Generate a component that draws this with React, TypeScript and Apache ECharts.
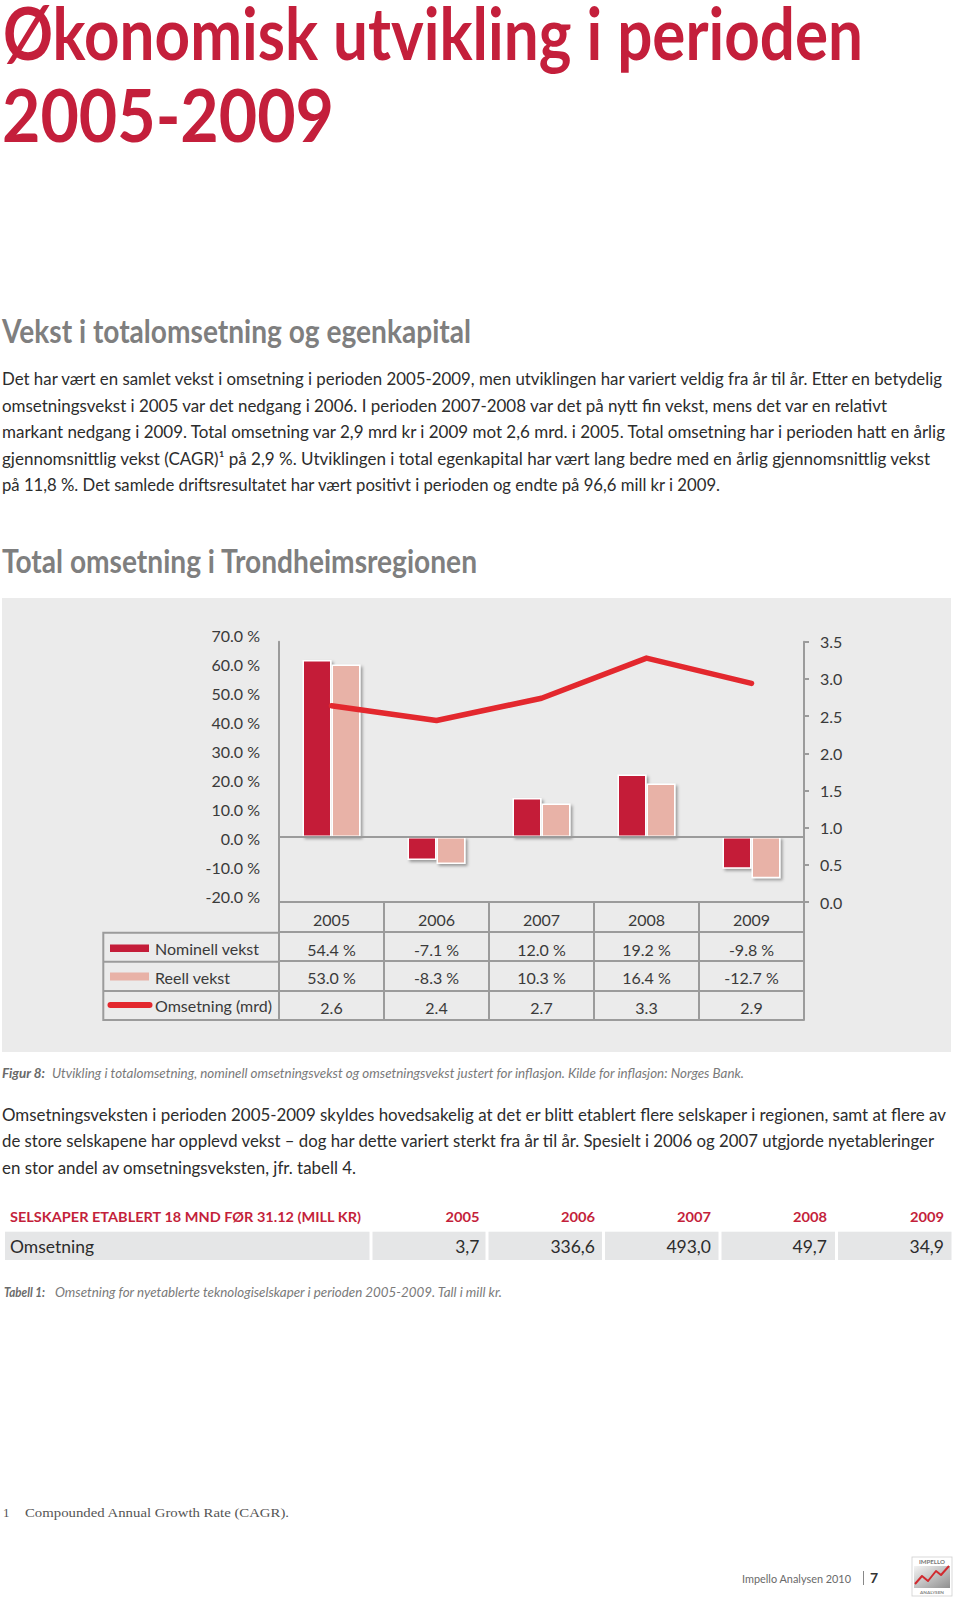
import React, { useEffect, useRef } from "react";
import * as echarts from "echarts";

// ---------- chart data ----------
const years = ["2005", "2006", "2007", "2008", "2009"];
const nominellVekst = [54.4, -7.1, 12.0, 19.2, -9.8];
const reellVekst = [53.0, -8.3, 10.3, 16.4, -12.7];
const omsetningMrd = [2.64, 2.44, 2.74, 3.28, 2.94];
const seriesNames = ["Nominell vekst", "Reell vekst", "Omsetning (mrd)"];
const pctAxisMin = -20;
const pctAxisMax = 70;
const pctAxisStep = 10;
const barAxisMin = -20;
const barAxisMax = 60;
const mrdAxisMin = 0;
const mrdAxisMax = 3.5;
const mrdAxisStep = 0.5;

// ---------- table data ----------
const tableHeader = "SELSKAPER ETABLERT 18 MND FØR 31.12 (MILL KR)";
const tableYears = ["2005", "2006", "2007", "2008", "2009"];
const tableRowLabel = "Omsetning";
const tableValues = [3.7, 336.6, 493.0, 49.7, 34.9];

// ---------- page text ----------
const titleLines = ["Økonomisk utvikling i perioden", "2005-2009"];
const heading1 = "Vekst i totalomsetning og egenkapital";
const para1 = [
  "Det har vært en samlet vekst i omsetning i perioden 2005-2009, men utviklingen har variert veldig fra år til år. Etter en betydelig",
  "omsetningsvekst i 2005 var det nedgang i 2006. I perioden 2007-2008 var det på nytt fin vekst, mens det var en relativt",
  "markant nedgang i 2009. Total omsetning var 2,9 mrd kr i 2009 mot 2,6 mrd. i 2005. Total omsetning har i perioden hatt en årlig",
  "gjennomsnittlig vekst (CAGR)¹  på 2,9 %. Utviklingen i total egenkapital har vært lang bedre med en årlig gjennomsnittlig vekst",
  "på 11,8 %. Det samlede driftsresultatet har vært positivt i perioden og endte på 96,6 mill kr i 2009.",
];
const heading2 = "Total omsetning i Trondheimsregionen";
const figLabel = "Figur 8:";
const figText =
  "Utvikling i totalomsetning, nominell omsetningsvekst og omsetningsvekst justert for inflasjon. Kilde for inflasjon: Norges Bank.";
const para2 = [
  "Omsetningsveksten i perioden 2005-2009 skyldes hovedsakelig at det er blitt etablert flere selskaper i regionen, samt at flere av",
  "de store selskapene har opplevd vekst – dog har dette variert sterkt fra år til år. Spesielt i 2006 og 2007 utgjorde nyetableringer",
  "en stor andel av omsetningsveksten, jfr. tabell 4.",
];
const tabLabel = "Tabell 1:";
const tabText = "Omsetning for nyetablerte teknologiselskaper i perioden 2005-2009. Tall i mill kr.";
const footnoteNo = "1";
const footnoteText = "Compounded Annual Growth Rate (CAGR).";
const footerText = "Impello Analysen 2010";
const footerPage = "7";

// ---------- styles ----------
const C_NOM = "#c41d39";
const C_REEL = "#e8b2a7";
const C_LINE = "#e3282e";
const C_AXIS = "#9b9b9b";
const C_TEXT = "#3a3a3a";
const C_RED_TEXT = "#c41f3b";
const FONT = "Lato, 'Open Sans', sans-serif";

const pct = (v: number) => `${v.toFixed(1)} %`;

function Chart() {
  const ref = useRef<HTMLDivElement>(null);
  useEffect(() => {
    if (!ref.current) return;
    const chart = echarts.init(ref.current, undefined, { renderer: "svg" });
    const rowLabels = [
      years,
      nominellVekst.map(pct),
      reellVekst.map(pct),
      omsetningMrd.map((v) => v.toFixed(1)),
    ];
    const rowOffsets = [0, 30, 59, 89];
    const rowHeights = [30, 29, 30, 29];
    const rowMargins = [9, 9, 8.5, 8];
    const xAxes: any[] = rowLabels.map((labels, i) => ({
      type: "category",
      data: years,
      position: "bottom",
      offset: rowOffsets[i],
      boundaryGap: true,
      axisLine: { show: true, onZero: false, lineStyle: { color: C_AXIS, width: 2 } },
      axisTick: {
        show: true,
        interval: 0,
        length: rowHeights[i],
        lineStyle: { color: C_AXIS, width: 2 },
      },
      axisLabel: {
        show: true,
        interval: 0,
        margin: rowMargins[i],
        color: C_TEXT,
        fontFamily: FONT,
        fontSize: 16,
        lineHeight: 16,
        formatter: (_v: string, idx: number) => labels[idx],
      },
      splitLine: { show: false },
    }));
    xAxes.push({
      type: "category",
      data: years,
      position: "bottom",
      offset: 118,
      axisLine: { show: true, onZero: false, lineStyle: { color: C_AXIS, width: 2 } },
      axisTick: { show: false },
      axisLabel: { show: false },
      splitLine: { show: false },
    });

    const option: any = {
      animation: false,
      backgroundColor: "#ebebeb",
      grid: {
        left: 277,
        top: 43.7,
        width: 525,
        height: 260.3,
        containLabel: false,
        outerBoundsMode: "none",
      },
      xAxis: xAxes,
      yAxis: [
        {
          type: "value",
          position: "left",
          min: pctAxisMin,
          max: pctAxisMax,
          interval: pctAxisStep,
          axisLine: { show: true, lineStyle: { color: C_AXIS, width: 2 } },
          axisTick: { show: false },
          splitLine: { show: false },
          axisLabel: {
            margin: 19,
            color: C_TEXT,
            fontFamily: FONT,
            fontSize: 16,
            lineHeight: 12,
            verticalAlign: "bottom",
            formatter: (v: number) => pct(v),
          },
        },
        {
          type: "value",
          position: "right",
          min: mrdAxisMin,
          max: mrdAxisMax,
          interval: mrdAxisStep,
          axisLine: { show: true, lineStyle: { color: C_AXIS, width: 2 } },
          axisTick: { show: true, length: 5, lineStyle: { color: C_AXIS, width: 2 } },
          splitLine: { show: false },
          axisLabel: {
            margin: 16,
            color: C_TEXT,
            fontFamily: FONT,
            fontSize: 16,
            formatter: (v: number) => v.toFixed(1),
          },
        },
        {
          type: "value",
          position: "left",
          show: false,
          min: barAxisMin,
          max: barAxisMax,
          splitLine: { show: false },
        },
      ],
      series: [
        {
          name: seriesNames[0],
          type: "bar",
          yAxisIndex: 2,
          data: nominellVekst,
          barWidth: 29,
          barGap: "0%",
          itemStyle: {
            color: C_NOM,
            borderColor: "#ffffff",
            borderWidth: 1.5,
            shadowColor: "rgba(0,0,0,0.35)",
            shadowBlur: 3,
            shadowOffsetX: 2,
            shadowOffsetY: 2,
          },
          markLine: {
            silent: true,
            symbol: ["none", "none"],
            label: { show: false },
            lineStyle: { color: C_AXIS, width: 2, type: "solid" },
            data: [{ yAxis: 0 }],
          },
        },
        {
          name: seriesNames[1],
          type: "bar",
          yAxisIndex: 2,
          data: reellVekst,
          barWidth: 29,
          barGap: "0%",
          itemStyle: {
            color: C_REEL,
            borderColor: "#ffffff",
            borderWidth: 1.5,
            shadowColor: "rgba(0,0,0,0.35)",
            shadowBlur: 3,
            shadowOffsetX: 2,
            shadowOffsetY: 2,
          },
        },
        {
          name: seriesNames[2],
          type: "line",
          yAxisIndex: 1,
          data: omsetningMrd,
          symbol: "none",
          lineStyle: { color: C_LINE, width: 5.5, cap: "round", join: "round" },
          z: 5,
        },
      ],
      graphic: [
        {
          type: "rect",
          shape: { x: 101.3, y: 334.7, width: 175.7, height: 87.3 },
          style: { fill: "none", stroke: C_AXIS, lineWidth: 2 },
        },
        {
          type: "line",
          shape: { x1: 101.3, y1: 363.7, x2: 277, y2: 363.7 },
          style: { stroke: C_AXIS, lineWidth: 2 },
        },
        {
          type: "line",
          shape: { x1: 101.3, y1: 393, x2: 277, y2: 393 },
          style: { stroke: C_AXIS, lineWidth: 2 },
        },
        { type: "rect", shape: { x: 108, y: 346.5, width: 39, height: 7.5 }, style: { fill: C_NOM } },
        { type: "rect", shape: { x: 108, y: 374.5, width: 39, height: 8 }, style: { fill: C_REEL } },
        {
          type: "line",
          shape: { x1: 108.5, y1: 407, x2: 147.5, y2: 407 },
          style: { stroke: C_LINE, lineWidth: 6, lineCap: "round" },
        },
        {
          type: "text",
          x: 153,
          y: 350.5,
          style: { text: seriesNames[0], fill: C_TEXT, fontFamily: FONT, fontSize: 16, verticalAlign: "middle" },
        },
        {
          type: "text",
          x: 153,
          y: 379,
          style: { text: seriesNames[1], fill: C_TEXT, fontFamily: FONT, fontSize: 16, verticalAlign: "middle" },
        },
        {
          type: "text",
          x: 153,
          y: 407.5,
          style: { text: seriesNames[2], fill: C_TEXT, fontFamily: FONT, fontSize: 16, verticalAlign: "middle" },
        },
      ],
    };
    chart.setOption(option);
    return () => chart.dispose();
  }, []);
  return (
    <div
      ref={ref}
      style={{ position: "absolute", left: 2, top: 598, width: 949, height: 454 }}
    />
  );
}

type TProps = {
  x: number;
  y: number;
  len?: number;
  size: number;
  weight?: number | string;
  color: string;
  italic?: boolean;
  family?: string;
  anchor?: "start" | "end" | "middle";
  children: React.ReactNode;
};

function T({ x, y, len, size, weight = 400, color, italic, family = FONT, anchor = "start", children }: TProps) {
  const extra: any = len ? { textLength: len, lengthAdjust: "spacingAndGlyphs" } : {};
  return (
    <text
      x={x}
      y={y}
      fontSize={size}
      fontWeight={weight}
      fill={color}
      fontStyle={italic ? "italic" : "normal"}
      fontFamily={family}
      textAnchor={anchor}
      {...extra}
    >
      {children}
    </text>
  );
}

function PageText() {
  const para1Base = [385, 411.5, 438, 464.5, 491];
  const para1Len = [940, 885, 943, 928, 718];
  const para2Base = [1120.5, 1147, 1173.5];
  const para2Len = [944, 932, 354];
  const colRight = [479.5, 595, 711, 827, 944];
  const cellX = [5, 372.5, 488.5, 605, 721.5, 838];
  const cellR = [369.5, 485.5, 602, 718.5, 835, 951.5];
  const BODY = "#2c2c2c";
  const BODY_SIZE = 16.8;
  return (
    <svg
      width={960}
      height={1602}
      style={{ position: "absolute", left: 0, top: 0 }}
    >
      <T x={3} y={60} len={860} size={72} weight={700} color={C_RED_TEXT}>
        {titleLines[0]}
      </T>
      <T x={2} y={141.5} len={332} size={72} weight={700} color={C_RED_TEXT}>
        {titleLines[1]}
      </T>
      <T x={2} y={343} len={469} size={32} weight={700} color="#7f7f7f">
        {heading1}
      </T>
      {para1.map((line, i) => (
        <T key={"p1" + i} x={2} y={para1Base[i]} len={para1Len[i]} size={BODY_SIZE} color={BODY}>
          {line}
        </T>
      ))}
      <T x={2} y={573} len={475} size={32} weight={700} color="#7f7f7f">
        {heading2}
      </T>
      <T x={2} y={1078} len={43} size={12.5} weight={700} italic color="#6a6a6a">
        {figLabel}
      </T>
      <T x={52} y={1078} len={692} size={12.5} italic color="#7a7a7a">
        {figText}
      </T>
      {para2.map((line, i) => (
        <T key={"p2" + i} x={2} y={para2Base[i]} len={para2Len[i]} size={BODY_SIZE} color={BODY}>
          {line}
        </T>
      ))}
      <T x={10} y={1221.5} len={351} size={14} weight={700} color={C_RED_TEXT}>
        {tableHeader}
      </T>
      {tableYears.map((yr, i) => (
        <T key={"ty" + i} x={colRight[i]} y={1221.5} len={34} size={14} weight={700} color={C_RED_TEXT} anchor="end">
          {yr}
        </T>
      ))}
      {cellX.map((cx, i) => (
        <rect key={"c" + i} x={cx} y={1231.7} width={cellR[i] - cx} height={28.3} fill="#e5e6e7" />
      ))}
      <T x={10} y={1252.5} len={84} size={17.5} color={BODY}>
        {tableRowLabel}
      </T>
      {tableValues.map((v, i) => (
        <T key={"tv" + i} x={colRight[i]} y={1252.5} size={17.5} color={BODY} anchor="end">
          {v.toFixed(1).replace(".", ",")}
        </T>
      ))}
      <T x={4} y={1296.5} len={41} size={12.5} weight={700} italic color="#6a6a6a">
        {tabLabel}
      </T>
      <T x={55} y={1296.5} len={447} size={12.5} italic color="#7a7a7a">
        {tabText}
      </T>
      <T x={3} y={1517} size={13} family="'Liberation Serif', 'DejaVu Serif', serif" color="#555">
        {footnoteNo}
      </T>
      <T x={25} y={1517} len={264} size={13} family="'Liberation Serif', 'DejaVu Serif', serif" color="#555">
        {footnoteText}
      </T>
      <T x={742} y={1583} len={109} size={12} color="#6a6a6a">
        {footerText}
      </T>
      <line x1={863.5} y1={1571} x2={863.5} y2={1585} stroke="#888" strokeWidth={1} />
      <T x={870} y={1583} size={14} weight={700} color="#333">
        {footerPage}
      </T>
      <defs>
        <linearGradient id="lg" x1="0" y1="0" x2="1" y2="1">
          <stop offset="0" stopColor="#f4f4f4" />
          <stop offset="1" stopColor="#8f8f8f" />
        </linearGradient>
      </defs>
      <rect x={912} y={1557} width={40} height={39} fill="#ffffff" stroke="#cfcfcf" strokeWidth={0.8} />
      <rect x={914} y={1566} width={36} height={22} fill="url(#lg)" />
      <T x={932} y={1564} len={26} size={6} weight={700} color="#777" anchor="middle">
        IMPELLO
      </T>
      <polyline
        points="915,1584 922,1576 928,1581 936,1571 941,1575 949,1566"
        fill="none"
        stroke="#d12a2f"
        strokeWidth={2}
        strokeLinejoin="round"
      />
      <T x={932} y={1594} len={24} size={4.5} weight={700} color="#888" anchor="middle">
        ANALYSEN
      </T>
    </svg>
  );
}

export default function App() {
  return (
    <div style={{ position: "absolute", left: 0, top: 0, width: 960, height: 1602, background: "#fff" }}>
      <PageText />
      <Chart />
    </div>
  );
}
